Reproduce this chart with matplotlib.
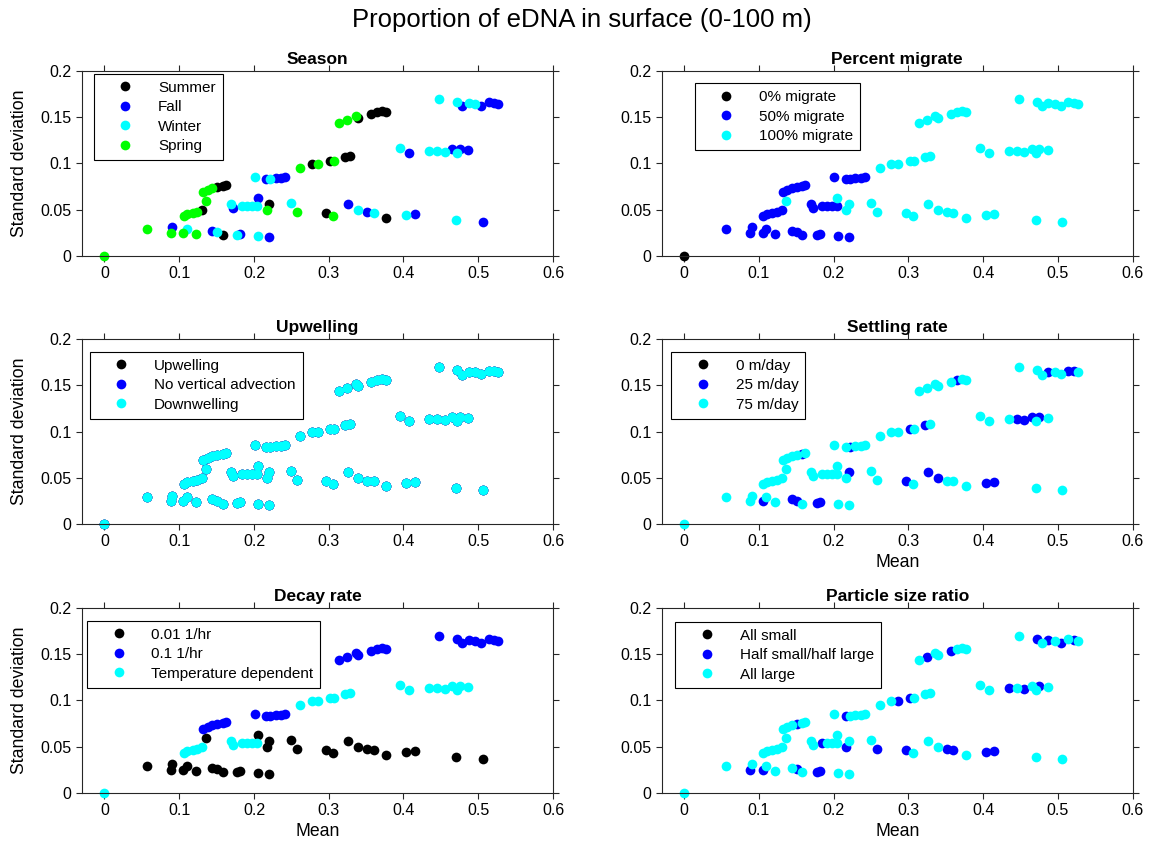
#!/usr/bin/env python
"""Mean vs. standard deviation of the surface (0-100 m) eDNA proportion, coloured by each model factor."""

import numpy as np
import matplotlib.pyplot as plt

plt.rcParams['font.family'] = ['Liberation Sans', 'DejaVu Sans']

#+++ Data: one entry per simulation result (mean, sd) and its factor levels
mean_vals = [0.0,
             0.0566, 0.0886, 0.0909, 0.1056, 0.110, 0.122, 0.144, 0.151, 0.158, 0.177, 0.182, 0.206, 0.220,
             0.136, 0.205, 0.217, 0.220, 0.250, 0.258, 0.297, 0.306, 0.326, 0.339, 0.351, 0.360, 0.377, 0.404, 0.415, 0.470, 0.506,
             0.132, 0.138, 0.144, 0.151, 0.158, 0.162,
             0.201, 0.216, 0.222, 0.229, 0.236, 0.242,
             0.314, 0.325, 0.336, 0.339, 0.357, 0.365, 0.371, 0.377,
             0.448, 0.472, 0.478, 0.487, 0.496, 0.504, 0.514, 0.521, 0.527,
             0.106, 0.111, 0.118, 0.124, 0.131,
             0.169, 0.172, 0.184, 0.191, 0.198, 0.204,
             0.262, 0.277, 0.286, 0.302, 0.307, 0.322, 0.329,
             0.396, 0.408, 0.434, 0.445, 0.455, 0.465, 0.471, 0.475, 0.486]
sd_vals = [0.0,
           0.0287, 0.0251, 0.0308, 0.0244, 0.0290, 0.0237, 0.0272, 0.0254, 0.0222, 0.0229, 0.0233, 0.0215, 0.0204,
           0.0595, 0.0627, 0.0502, 0.0566, 0.0577, 0.0477, 0.0466, 0.0437, 0.0559, 0.0502, 0.0470, 0.0466, 0.0412, 0.0441, 0.0452, 0.0387, 0.0366,
           0.0692, 0.0717, 0.0735, 0.0746, 0.0756, 0.0768,
           0.0853, 0.0828, 0.0835, 0.0842, 0.0846, 0.0850,
           0.1437, 0.1473, 0.1516, 0.1491, 0.1534, 0.1559, 0.1566, 0.1559,
           0.1695, 0.1667, 0.1616, 0.1649, 0.1642, 0.1620, 0.1660, 0.1650, 0.1640,
           0.0434, 0.0452, 0.0466, 0.0477, 0.0495,
           0.0559, 0.0523, 0.0541, 0.0538, 0.0541, 0.0545,
           0.0953, 0.0996, 0.0990, 0.1025, 0.1032, 0.1068, 0.1082,
           0.1165, 0.1115, 0.1140, 0.1133, 0.1129, 0.1154, 0.1111, 0.1154, 0.1151]

season_grp = [3,
              3, 3, 1, 3, 2, 3, 1, 2, 0, 2, 1, 2, 1,
              3, 1, 3, 0, 2, 3, 0, 3, 1, 2, 1, 2, 0, 2, 1, 2, 1,
              3, 3, 3, 0, 0, 0,
              2, 1, 2, 1, 1, 1,
              3, 3, 3, 0, 0, 0, 0, 0,
              2, 2, 1, 2, 2, 1, 1, 1, 1,
              3, 3, 3, 3, 0,
              2, 1, 2, 2, 2, 2,
              3, 0, 3, 0, 3, 0, 0,
              2, 1, 2, 2, 2, 1, 2, 1, 1]
migrate_grp = [0,
               1, 1, 1, 1, 1, 1, 1, 1, 1, 1, 1, 1, 1,
               2, 2, 2, 2, 2, 2, 2, 2, 2, 2, 2, 2, 2, 2, 2, 2, 2,
               1, 1, 1, 1, 1, 1,
               1, 1, 1, 1, 1, 1,
               2, 2, 2, 2, 2, 2, 2, 2,
               2, 2, 2, 2, 2, 2, 2, 2, 2,
               1, 1, 1, 1, 1,
               1, 1, 1, 1, 1, 1,
               2, 2, 2, 2, 2, 2, 2,
               2, 2, 2, 2, 2, 2, 2, 2, 2]
settle_grp = [2,
              2, 2, 2, 1, 2, 2, 1, 1, 2, 1, 1, 2, 2,
              2, 2, 2, 1, 2, 2, 1, 2, 1, 1, 2, 2, 2, 1, 1, 2, 2,
              2, 2, 2, 2, 1, 2,
              2, 2, 1, 2, 2, 2,
              2, 2, 2, 2, 2, 1, 2, 2,
              2, 2, 2, 1, 2, 2, 1, 1, 2,
              2, 2, 2, 2, 2,
              2, 2, 2, 2, 2, 2,
              2, 2, 2, 1, 2, 1, 2,
              2, 2, 2, 1, 1, 1, 2, 1, 2]
decay_grp = [2,
             0, 0, 0, 0, 0, 0, 0, 0, 0, 0, 0, 0, 0,
             0, 0, 0, 0, 0, 0, 0, 0, 0, 0, 0, 0, 0, 0, 0, 0, 0,
             1, 1, 1, 1, 1, 1,
             1, 1, 1, 1, 1, 1,
             1, 1, 1, 1, 1, 1, 1, 1,
             1, 1, 1, 1, 1, 1, 1, 1, 1,
             2, 2, 2, 2, 2,
             2, 2, 2, 2, 2, 2,
             2, 2, 2, 2, 2, 2, 2,
             2, 2, 2, 2, 2, 2, 2, 2, 2]
size_grp = [2,
            2, 1, 2, 1, 2, 2, 2, 1, 2, 1, 1, 2, 2,
            2, 2, 1, 2, 2, 1, 1, 2, 2, 2, 1, 1, 2, 1, 1, 2, 2,
            2, 2, 2, 1, 2, 2,
            2, 1, 2, 2, 2, 2,
            2, 1, 2, 2, 1, 2, 2, 2,
            2, 1, 2, 1, 2, 1, 2, 1, 2,
            2, 2, 2, 2, 2,
            2, 2, 1, 2, 2, 2,
            2, 2, 1, 1, 2, 2, 2,
            2, 2, 1, 2, 1, 2, 2, 1, 2]

season_labels = ["Summer", "Fall", "Winter", "Spring"]
migrate_labels = ["0% migrate", "50% migrate", "100% migrate"]
upwell_labels = ["Upwelling", "No vertical advection", "Downwelling"]
settle_labels = ["0 m/day", "25 m/day", "75 m/day"]
decay_labels = ["0.01 1/hr", "0.1 1/hr", "Temperature dependent"]
size_labels = ["All small", "Half small/half large", "All large"]

xtick_vals = [0, 0.1, 0.2, 0.3, 0.4, 0.5, 0.6]
xtick_labels = ["0", "0.1", "0.2", "0.3", "0.4", "0.5", "0.6"]
ytick_vals = [0, 0.05, 0.1, 0.15, 0.2]
ytick_labels = ["0", "0.05", "0.1", "0.15", "0.2"]
#---

#+++ Plot setup
colors = ["black", "blue", "cyan", "#00ff00"]
x = np.array(mean_vals)
y = np.array(sd_vals)
n = len(x)
# vertical advection has no effect: all three cases sit on top of each other
upwell_x = np.tile(x, 3)
upwell_y = np.tile(y, 3)
upwell_grp = np.repeat([0, 1, 2], n)

panels = [
    ("Season", x, y, season_grp, season_labels, (0.0255, 0.984), False, True),
    ("Percent migrate", x, y, migrate_grp, migrate_labels, (0.070, 0.934), False, False),
    ("Upwelling", upwell_x, upwell_y, upwell_grp, upwell_labels, (0.017, 0.931), False, True),
    ("Settling rate", x, y, settle_grp, settle_labels, (0.0206, 0.931), True, False),
    ("Decay rate", x, y, decay_grp, decay_labels, (0.0113, 0.930), True, True),
    ("Particle size ratio", x, y, size_grp, size_labels, (0.029, 0.926), True, False),
]

fig = plt.figure(figsize=(11.63, 8.47), dpi=100)
lefts = [0.0705, 0.569]
bottoms = [0.6978, 0.3813, 0.0638]
axw, axh = 0.405, 0.2184
fig.suptitle("Proportion of eDNA in surface (0-100 m)", fontsize=18.5, y=0.976, va="center")
#---

for i, (title, px, py, grp, labels, lpos, show_xlabel, show_ylabel) in enumerate(panels):
    ax = fig.add_axes([lefts[i % 2], bottoms[i // 2], axw, axh])
    grp = np.asarray(grp)
    for g, lab in enumerate(labels):
        sel = grp == g
        ax.plot(px[sel], py[sel], "o", ms=7.0, color=colors[g], mew=0,
                linestyle="none", label=lab, clip_on=False)
    ax.set_xlim(-0.03, 0.6)
    ax.set_ylim(0, 0.2)
    ax.set_xticks(xtick_vals, xtick_labels)
    ax.set_yticks(ytick_vals, ytick_labels)
    ax.tick_params(direction="out", length=4, width=0.8, labelsize=11.5, colors="#262626",
                   labelcolor="black", top=True, right=True)
    for sp in ax.spines.values():
        sp.set_color("#262626")
        sp.set_linewidth(0.8)
    ax.set_title(title, fontsize=12.5, fontweight="bold", pad=5)
    if show_xlabel:
        ax.set_xlabel("Mean", fontsize=12.7, labelpad=3)
    if show_ylabel:
        ax.set_ylabel("Standard deviation", fontsize=12.7, labelpad=9)
    leg = ax.legend(loc="upper left", bbox_to_anchor=lpos, borderaxespad=0, fontsize=11,
                    frameon=True, fancybox=False, edgecolor="black", framealpha=1,
                    handlelength=3.2, handletextpad=0.55, borderpad=0.45, labelspacing=0.36,
                    numpoints=1)
    leg.get_frame().set_linewidth(0.8)

fig.savefig("out.png", dpi=100)
